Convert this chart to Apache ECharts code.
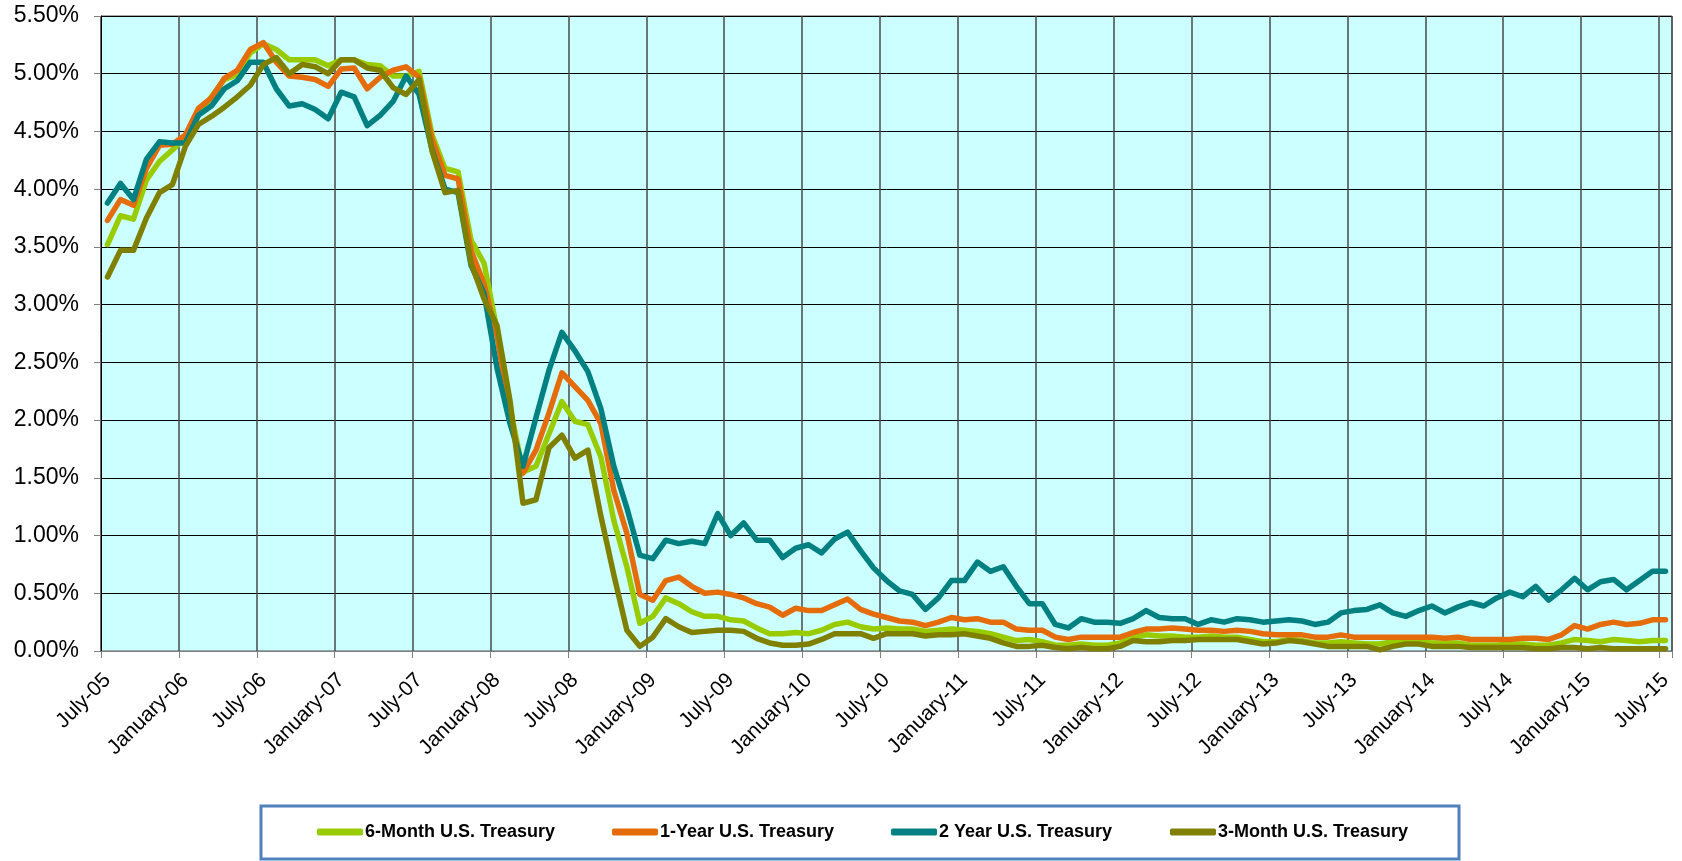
<!DOCTYPE html>
<html>
<head>
<meta charset="utf-8">
<script src="https://cdn.jsdelivr.net/npm/echarts@6/dist/echarts.min.js"></script>
<style>
html,body{margin:0;padding:0;background:#fff;}
#chart{width:1682px;height:861px;}
</style>
</head>
<body>
<div id="chart"></div>
<script>
const monthNames = ['January','February','March','April','May','June','July','August','September','October','November','December'];
const startYear = 2005, startMonth = 6, monthCount = 121;
const categories = [];
for (let i = 0; i < monthCount; i++) {
  const m = (startMonth + i) % 12;
  const y = startYear + Math.floor((startMonth + i) / 12);
  categories.push(monthNames[m] + '-' + String(y % 100).padStart(2, '0'));
}

const sixMonth = [3.52,3.77,3.74,4.08,4.24,4.34,4.45,4.64,4.80,4.95,4.99,5.18,5.26,5.21,5.12,5.12,5.12,5.07,5.12,5.12,5.08,5.07,4.98,4.98,5.02,4.47,4.18,4.15,3.56,3.36,2.78,2.12,1.55,1.60,1.88,2.16,1.99,1.96,1.68,1.13,0.73,0.24,0.30,0.46,0.41,0.34,0.30,0.30,0.27,0.26,0.20,0.15,0.15,0.16,0.15,0.18,0.23,0.25,0.21,0.19,0.20,0.19,0.19,0.17,0.18,0.19,0.18,0.17,0.15,0.12,0.09,0.10,0.08,0.05,0.05,0.06,0.05,0.05,0.07,0.12,0.14,0.13,0.13,0.12,0.12,0.13,0.12,0.12,0.10,0.08,0.08,0.10,0.09,0.07,0.07,0.08,0.07,0.06,0.06,0.08,0.09,0.08,0.07,0.07,0.07,0.05,0.05,0.05,0.06,0.06,0.05,0.05,0.07,0.10,0.09,0.08,0.10,0.09,0.08,0.09,0.09];

const oneYear = [3.73,3.91,3.86,4.18,4.38,4.39,4.47,4.70,4.79,4.96,5.03,5.21,5.27,5.10,4.98,4.97,4.95,4.89,5.04,5.05,4.87,4.97,5.03,5.06,4.97,4.43,4.12,4.09,3.47,3.18,2.73,2.05,1.54,1.74,2.06,2.41,2.29,2.17,1.97,1.39,1.02,0.49,0.44,0.61,0.64,0.56,0.50,0.51,0.49,0.46,0.41,0.38,0.31,0.37,0.35,0.35,0.40,0.45,0.36,0.32,0.29,0.26,0.25,0.22,0.25,0.29,0.27,0.28,0.25,0.25,0.19,0.18,0.18,0.12,0.10,0.12,0.12,0.12,0.12,0.16,0.19,0.19,0.20,0.19,0.18,0.18,0.17,0.18,0.17,0.15,0.14,0.14,0.14,0.12,0.12,0.14,0.12,0.12,0.12,0.12,0.12,0.12,0.12,0.11,0.12,0.10,0.10,0.10,0.10,0.11,0.11,0.10,0.14,0.22,0.19,0.23,0.25,0.23,0.24,0.27,0.27];

const twoYear = [3.88,4.05,3.91,4.26,4.41,4.40,4.40,4.64,4.72,4.87,4.94,5.10,5.10,4.87,4.72,4.74,4.69,4.61,4.84,4.80,4.55,4.64,4.76,4.98,4.82,4.34,4.00,3.97,3.34,3.10,2.45,1.97,1.60,2.02,2.43,2.76,2.60,2.42,2.10,1.60,1.24,0.83,0.80,0.96,0.93,0.95,0.93,1.19,1.00,1.11,0.96,0.96,0.81,0.89,0.92,0.85,0.97,1.03,0.87,0.72,0.61,0.52,0.49,0.36,0.46,0.61,0.61,0.77,0.69,0.73,0.56,0.41,0.41,0.23,0.20,0.28,0.25,0.25,0.24,0.28,0.35,0.29,0.28,0.28,0.23,0.27,0.25,0.28,0.27,0.25,0.26,0.27,0.26,0.23,0.25,0.33,0.35,0.36,0.40,0.33,0.30,0.35,0.39,0.33,0.38,0.42,0.39,0.46,0.51,0.47,0.56,0.44,0.53,0.63,0.53,0.60,0.62,0.53,0.61,0.69,0.69];

const threeMonth = [3.24,3.47,3.47,3.75,3.97,4.04,4.37,4.56,4.63,4.71,4.80,4.90,5.08,5.14,5.00,5.08,5.06,5.00,5.12,5.12,5.05,5.03,4.88,4.82,4.95,4.33,3.97,3.99,3.36,3.05,2.82,2.17,1.28,1.31,1.76,1.87,1.67,1.74,1.17,0.66,0.18,0.04,0.12,0.28,0.21,0.16,0.17,0.18,0.18,0.17,0.11,0.07,0.05,0.05,0.06,0.10,0.15,0.15,0.15,0.11,0.15,0.15,0.15,0.13,0.14,0.14,0.15,0.13,0.11,0.07,0.04,0.04,0.05,0.03,0.02,0.03,0.02,0.02,0.04,0.09,0.08,0.08,0.09,0.09,0.10,0.10,0.10,0.10,0.08,0.06,0.07,0.09,0.08,0.06,0.04,0.04,0.04,0.04,0.01,0.04,0.06,0.06,0.04,0.04,0.04,0.03,0.03,0.03,0.03,0.03,0.02,0.02,0.03,0.03,0.02,0.03,0.02,0.02,0.02,0.02,0.02];

const seriesNames = ['6-Month U.S. Treasury','1-Year U.S. Treasury','2 Year U.S. Treasury','3-Month U.S. Treasury'];
const seriesColors = ['#99CC00','#E46C0A','#008080','#808000'];
const seriesData = [sixMonth, oneYear, twoYear, threeMonth];
const legendLefts = [317, 612, 891, 1170];

const FONT = '"Liberation Sans", Arial, sans-serif';

const chart = echarts.init(document.getElementById('chart'), null, {renderer: 'canvas'});
chart.setOption({
  animation: false,
  backgroundColor: '#ffffff',
  textStyle: {fontFamily: FONT},
  grid: {
    left: 101, right: 10, top: 16, bottom: 210,
    show: true, backgroundColor: '#CCFFFF', borderColor: '#555', borderWidth: 1
  },
  graphic: [{
    type: 'rect', z: 0,
    shape: {x: 261, y: 806, width: 1198, height: 53},
    style: {fill: '#fff', stroke: '#4F81BD', lineWidth: 3}
  }],
  legend: seriesNames.map((n, k) => ({
    data: [n], left: legendLefts[k], top: 823, padding: 0,
    itemWidth: 46, itemHeight: 7, icon: 'roundRect', itemGap: 0,
    textStyle: {fontFamily: FONT, fontSize: 18, fontWeight: 'bold', color: '#000', padding: [0, 0, 0, -3]}
  })),
  xAxis: {
    type: 'category', data: categories, boundaryGap: true,
    axisLine: {lineStyle: {color: '#808080', width: 1}},
    axisTick: {show: true, interval: 5, length: 7, lineStyle: {color: '#808080'}},
    axisLabel: {interval: 5, rotate: 45, fontSize: 21, color: '#000', fontFamily: FONT, margin: 26},
    splitLine: {show: true, interval: 5, lineStyle: {color: '#4a4a4a', width: 1.5}}
  },
  yAxis: {
    type: 'value', min: 0, max: 5.5, interval: 0.5,
    axisLine: {show: true, lineStyle: {color: '#000', width: 1}},
    axisTick: {show: true, length: 7, lineStyle: {color: '#808080'}},
    axisLabel: {fontSize: 23, color: '#000', fontFamily: FONT, margin: 22, formatter: v => v.toFixed(2) + '%'},
    splitLine: {show: true, lineStyle: {color: '#000', width: 1}}
  },
  series: seriesNames.map((n, k) => ({
    name: n, type: 'line', data: seriesData[k], symbol: 'none',
    color: seriesColors[k],
    lineStyle: {width: 5.5, color: seriesColors[k], cap: 'round', join: 'round'}
  }))
});
</script>
</body>
</html>
